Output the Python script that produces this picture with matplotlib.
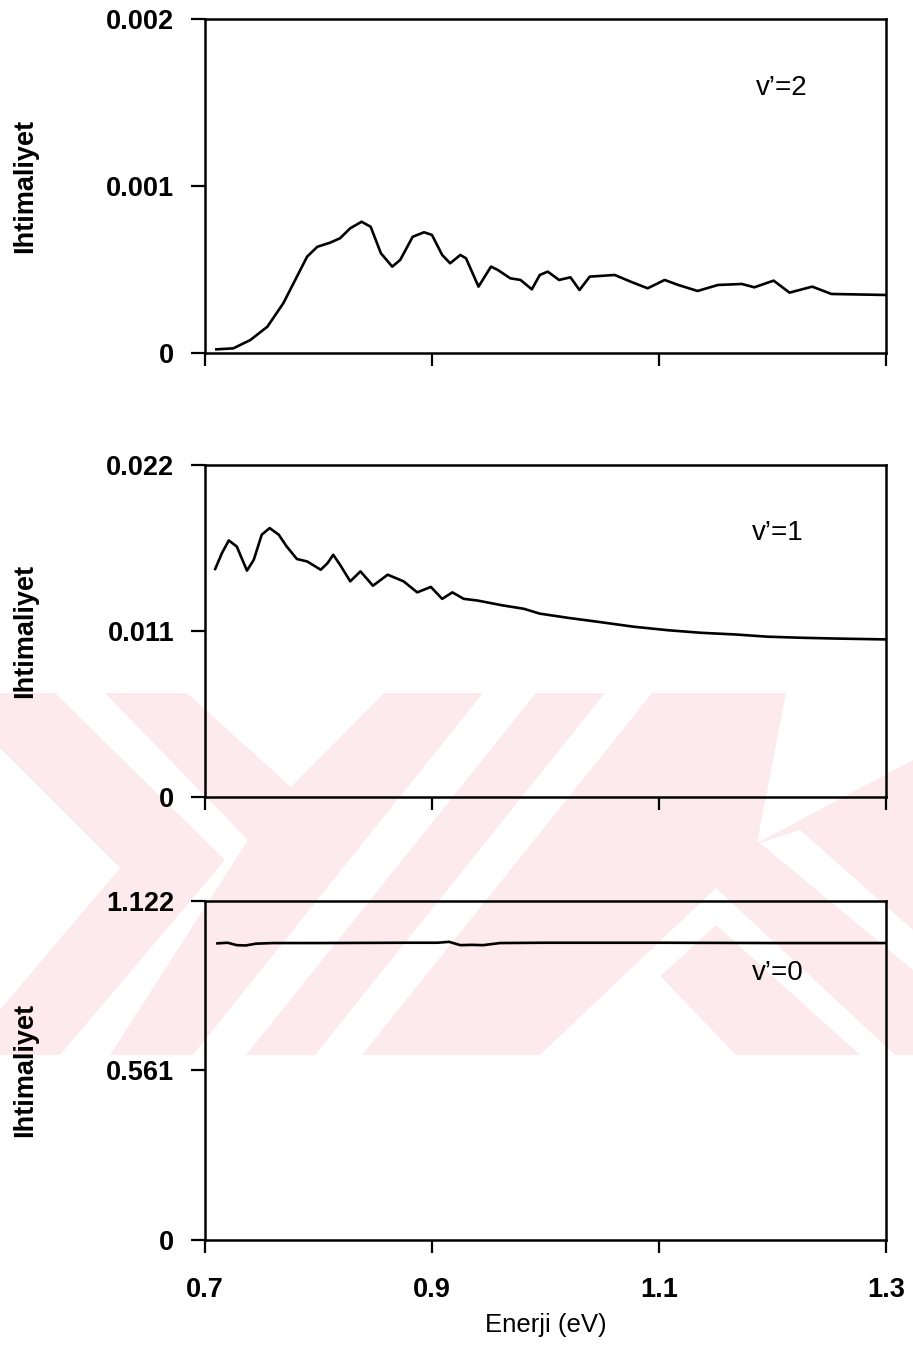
import matplotlib
matplotlib.use("Agg")
import matplotlib.pyplot as plt
from matplotlib.patches import Polygon, Rectangle

plt.rcParams['font.family'] = ['Liberation Sans', 'DejaVu Sans']

# v'=2 curve
energy_v2 = [0.710, 0.725, 0.740, 0.755, 0.769, 0.781, 0.790, 0.799, 0.810, 0.819,
             0.828, 0.838, 0.846, 0.855, 0.865, 0.872, 0.883, 0.893, 0.900, 0.909,
             0.916, 0.925, 0.930, 0.941, 0.952, 0.958, 0.969, 0.978, 0.988, 0.995,
             1.002, 1.012, 1.022, 1.030, 1.039, 1.061, 1.075, 1.090, 1.105, 1.117,
             1.134, 1.152, 1.173, 1.184, 1.201, 1.215, 1.235, 1.252, 1.300]
prob_v2 = [0.000022, 0.000028, 0.000078, 0.000158, 0.000298, 0.000458, 0.000578, 0.000637, 0.000661, 0.000688,
           0.000748, 0.000787, 0.000757, 0.000598, 0.000518, 0.000558, 0.000697, 0.000724, 0.000708, 0.000588,
           0.000538, 0.000588, 0.000568, 0.000398, 0.000518, 0.000498, 0.000448, 0.000438, 0.000382, 0.000468,
           0.000488, 0.000438, 0.000454, 0.000378, 0.000458, 0.000468, 0.000428, 0.000388, 0.000438, 0.000408,
           0.000372, 0.000408, 0.000414, 0.000394, 0.000434, 0.000362, 0.000398, 0.000354, 0.000348]

# v'=1 curve
energy_v1 = [0.709, 0.715, 0.721, 0.728, 0.737, 0.743, 0.750, 0.757, 0.765, 0.772,
             0.781, 0.790, 0.802, 0.808, 0.813, 0.819, 0.828, 0.837, 0.848, 0.861,
             0.875, 0.887, 0.899, 0.909, 0.918, 0.928, 0.940, 0.962, 0.981, 0.995,
             1.020, 1.049, 1.078, 1.108, 1.137, 1.167, 1.196, 1.226, 1.255, 1.300]
prob_v1 = [0.01511, 0.01617, 0.01700, 0.01660, 0.01500, 0.01572, 0.01738, 0.01782, 0.01738, 0.01660,
           0.01577, 0.01561, 0.01506, 0.01550, 0.01605, 0.01539, 0.01429, 0.01495, 0.01400, 0.01473,
           0.01429, 0.01356, 0.01392, 0.01313, 0.01356, 0.01313, 0.01302, 0.01270, 0.01247, 0.01215,
           0.01187, 0.01158, 0.01128, 0.01105, 0.01088, 0.01077, 0.01062, 0.01055, 0.01050, 0.01044]

# v'=0 curve
energy_v0 = [0.711, 0.720, 0.728, 0.736, 0.745, 0.760, 0.800, 0.880, 0.905, 0.915,
             0.925, 0.935, 0.945, 0.960, 1.000, 1.100, 1.200, 1.300]
prob_v0 = [0.981, 0.983, 0.975, 0.974, 0.980, 0.982, 0.982, 0.983, 0.983, 0.986,
           0.975, 0.976, 0.975, 0.982, 0.983, 0.983, 0.982, 0.982]

panels = [
    (energy_v2, prob_v2, [0, 0.001, 0.002], ['0', '0.001', '0.002'], "v’=2", (1.208, 0.00159)),
    (energy_v1, prob_v1, [0, 0.011, 0.022], ['0', '0.011', '0.022'], "v’=1", (1.205, 0.01751)),
    (energy_v0, prob_v0, [0, 0.561, 1.122], ['0', '0.561', '1.122'], "v’=0", (1.205, 0.884)),
]

fig = plt.figure(figsize=(9.13, 13.51), dpi=100)
W, H = 913, 1351


def to_fig(points):
    return [(x / W, 1 - y / H) for x, y in points]


# pink watermark behind the panels
pink = '#fdeaee'
fig.add_artist(Rectangle((0, 1 - 1055 / H), 1, 362 / H, transform=fig.transFigure,
                         facecolor=pink, edgecolor='none', zorder=-5))
white_shapes = [
    [(55, 693), (105, 693), (248, 840), (225, 860)],
    [(225, 860), (248, 840), (110, 1055), (60, 1055)],
    [(0, 748), (120, 868), (0, 1010)],
    [(187, 693), (384, 693), (291, 787)],
    [(483, 693), (536, 693), (246, 1055), (193, 1055)],
    [(605, 693), (652, 693), (362, 1055), (315, 1055)],
    [(786, 693), (913, 693), (913, 760), (757, 843)],
    [(716, 888), (540, 1055), (575, 1055), (716, 925), (860, 1055), (895, 1055)],
    [(645, 960), (553, 1055), (736, 1055)],
    [(760, 843), (800, 830), (913, 930), (913, 970)],
]
for pts in white_shapes:
    fig.add_artist(Polygon(to_fig(pts), closed=True, transform=fig.transFigure,
                           facecolor='white', edgecolor='none', zorder=-4))

boxes = [(0.7387, 0.2469), (0.4101, 0.2457), (0.0822, 0.2511)]

for i, (xs, ys, yt, ytl, lab, pos) in enumerate(panels):
    bottom, height = boxes[i]
    ax = fig.add_axes([0.2245, bottom, 0.7459, height])
    ax.set_facecolor('none')
    ax.plot(xs, ys, color='black', lw=1.9)
    ax.set_xlim(0.7, 1.3)
    ax.set_ylim(0, yt[-1])
    ax.set_yticks(yt)
    ax.set_yticklabels(ytl, fontsize=19.5, fontweight='bold')
    ax.set_xticks([0.7, 0.9, 1.1, 1.3])
    for sp in ax.spines.values():
        sp.set_linewidth(1.8)
    ax.tick_params(axis='y', direction='out', length=10, width=1.6, pad=12)
    ax.tick_params(axis='x', direction='out', length=9, width=1.6, pad=18)
    if i < 2:
        ax.set_xticklabels([])
    else:
        ax.set_xticklabels(['0.7', '0.9', '1.1', '1.3'], fontsize=19.5, fontweight='bold')
        ax.set_xlabel('Enerji (eV)', fontsize=18.5, labelpad=7)
    ax.set_ylabel('Ihtimaliyet', fontsize=19.5, fontweight='bold')
    ax.yaxis.set_label_coords(-0.245, 0.5)
    ax.text(pos[0], pos[1], lab, fontsize=20, ha='center', va='center')

fig.savefig('out.png', dpi=100)
